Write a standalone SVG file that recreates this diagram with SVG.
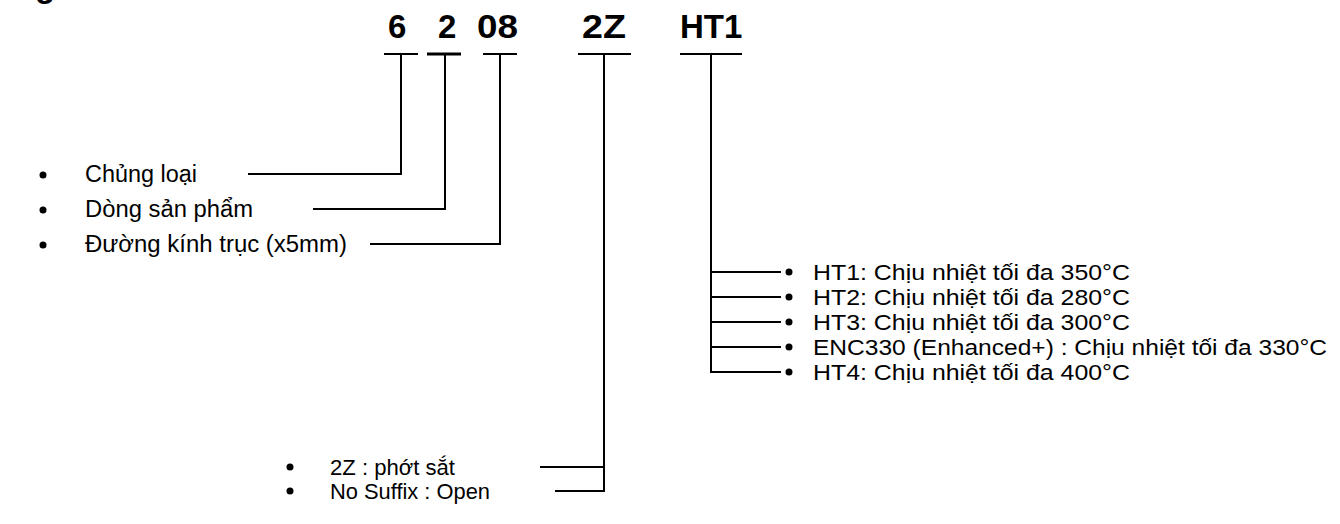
<svg xmlns="http://www.w3.org/2000/svg" width="1340" height="524" viewBox="0 0 1340 524">
<style>
.code{font-family:"Liberation Sans",Arial,sans-serif;font-weight:bold;font-size:33px;fill:#000}
.lbl{font-family:"Liberation Sans",Arial,sans-serif;fill:#000}
.l{font-size:23px}
.r{font-size:22px}
.b{font-size:22px}
.ln{stroke:#000;stroke-width:2;fill:none}
.dot{fill:#000}
</style>
<rect width="1340" height="524" fill="#fff"/>
<text class="code" x="35" y="-3">g</text>
<g id="codes">
<text class="code" x="388" y="38">6</text>
<text class="code" x="438" y="38">2</text>
<text class="code" x="477" y="38" textLength="41" lengthAdjust="spacingAndGlyphs">08</text>
<text class="code" x="582" y="38" textLength="44" lengthAdjust="spacingAndGlyphs">2Z</text>
<text class="code" x="680" y="38">HT1</text>
</g>
<g id="connectors">
<line class="ln" x1="384" y1="54" x2="418" y2="54"/>
<line class="ln" x1="427" y1="54" x2="461" y2="54" style="stroke-width:3"/>
<line class="ln" x1="483" y1="54" x2="517" y2="54"/>
<line class="ln" x1="578" y1="54" x2="631" y2="54"/>
<line class="ln" x1="680" y1="54" x2="742" y2="54"/>
<polyline class="ln" points="401,54 401,174 248,174"/>
<polyline class="ln" points="445,54 445,209 313,209"/>
<polyline class="ln" points="500,54 500,244 370,244"/>
<polyline class="ln" points="604,54 604,491 555,491"/>
<line class="ln" x1="604" y1="467" x2="540" y2="467"/>
<polyline class="ln" points="711,54 711,372 781,372"/>
<line class="ln" x1="711" y1="272" x2="781" y2="272"/>
<line class="ln" x1="711" y1="297" x2="781" y2="297"/>
<line class="ln" x1="711" y1="322" x2="781" y2="322"/>
<line class="ln" x1="711" y1="347" x2="781" y2="347"/>
</g>
<g id="left-list">
<circle class="dot" cx="43" cy="175" r="3.5"/>
<circle class="dot" cx="43" cy="210" r="3.5"/>
<circle class="dot" cx="43" cy="245" r="3.5"/>
<text class="lbl l" x="85" y="182" textLength="112" lengthAdjust="spacingAndGlyphs">Chủng loại</text>
<text class="lbl l" x="85" y="217" textLength="168" lengthAdjust="spacingAndGlyphs">Dòng sản phẩm</text>
<text class="lbl l" x="85" y="252" textLength="262" lengthAdjust="spacingAndGlyphs">Đường kính trục (x5mm)</text>
</g>
<g id="ht-list">
<circle class="dot" cx="789" cy="272" r="3.5"/>
<circle class="dot" cx="789" cy="297" r="3.5"/>
<circle class="dot" cx="789" cy="322" r="3.5"/>
<circle class="dot" cx="789" cy="347" r="3.5"/>
<circle class="dot" cx="789" cy="372" r="3.5"/>
<text class="lbl r" x="813" y="280" textLength="317" lengthAdjust="spacingAndGlyphs">HT1: Chịu nhiệt tối đa 350°C</text>
<text class="lbl r" x="813" y="305" textLength="317" lengthAdjust="spacingAndGlyphs">HT2: Chịu nhiệt tối đa 280°C</text>
<text class="lbl r" x="813" y="330" textLength="317" lengthAdjust="spacingAndGlyphs">HT3: Chịu nhiệt tối đa 300°C</text>
<text class="lbl r" x="813" y="355" textLength="514" lengthAdjust="spacingAndGlyphs">ENC330 (Enhanced+) : Chịu nhiệt tối đa 330°C</text>
<text class="lbl r" x="813" y="380" textLength="317" lengthAdjust="spacingAndGlyphs">HT4: Chịu nhiệt tối đa 400°C</text>
</g>
<g id="seal-list">
<circle class="dot" cx="290" cy="467" r="3.5"/>
<circle class="dot" cx="290" cy="491" r="3.5"/>
<text class="lbl b" x="330" y="475" textLength="125" lengthAdjust="spacingAndGlyphs">2Z : phớt sắt</text>
<text class="lbl b" x="330" y="499" textLength="160" lengthAdjust="spacingAndGlyphs">No Suffix : Open</text>
</g>
</svg>
